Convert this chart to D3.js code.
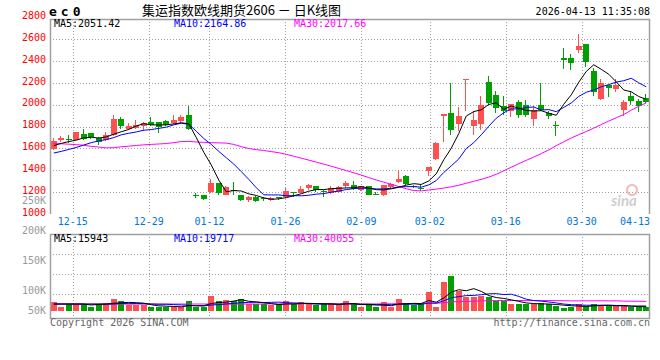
<!DOCTYPE html>
<html><head><meta charset="utf-8">
<script src="https://cdn.jsdelivr.net/npm/d3@7"></script>
<style>body{margin:0;background:#fff}svg{display:block}</style>
</head><body><svg id="c" width="660" height="360"></svg>
<script>
// ---------- data ----------
const dateLabels = ["12-15","12-29","01-12","01-26","02-09","03-02","03-16","03-30","04-13"];
const dateIndex  = [3,13,21,31,41,50,60,70,79];
const open  = [1597,1673,1689,1680,1735,1737,1692,1673,1726,1872,1781,1787,1808,1842,1838,1848,1833,1848,1909,1174,1174,1199,1282,1174,1220,1174,1129,1156,1144,1122,1153,1156,1202,1193,1239,1257,1212,1190,1196,1251,1266,1220,1257,1180,1174,1245,1287,1343,1257,1239,1395,1500,1900,1925,1827,2228,1802,1824,2206,2093,1992,1940,2026,2001,1870,2001,1925,1815,2430,2424,2500,2552,2307,2053,2176,2148,1949,2084,2038,2063];
const high  = [1695,1710,1726,1753,1781,1737,1701,1747,1909,1884,1833,1857,1842,1884,1838,1857,1903,1909,1985,1190,1174,1321,1282,1257,1287,1174,1159,1159,1153,1153,1153,1232,1202,1257,1276,1257,1220,1257,1257,1303,1297,1257,1257,1197,1266,1282,1404,1352,1266,1276,1432,1655,1918,2200,1980,2237,1946,2077,2261,2123,2077,2010,2047,2041,1985,2200,1946,1848,2522,2460,2644,2552,2338,2237,2185,2237,2041,2123,2053,2102];
const low   = [1582,1655,1649,1673,1673,1686,1627,1664,1716,1781,1771,1778,1762,1808,1741,1802,1824,1833,1765,1144,1122,1190,1174,1168,1168,1113,1107,1104,1113,1113,1122,1147,1156,1190,1220,1197,1153,1183,1190,1239,1214,1205,1168,1170,1165,1236,1282,1266,1236,1205,1343,1496,1655,1726,1756,1940,1726,1771,2001,1925,1909,1888,1879,1888,1802,1940,1870,1716,2329,2316,2476,2347,2077,2047,2072,2114,1894,2001,1930,2017];
const close = [1670,1698,1673,1753,1686,1701,1658,1726,1872,1802,1808,1817,1833,1817,1796,1811,1863,1884,1778,1159,1138,1282,1190,1242,1211,1122,1150,1113,1135,1144,1144,1205,1196,1230,1262,1218,1202,1239,1248,1278,1227,1251,1174,1177,1266,1276,1321,1276,1242,1232,1432,1652,1918,1771,1900,2237,1857,2001,2017,1971,1940,2010,1903,1909,1949,1955,1894,1808,2414,2378,2536,2390,2114,2200,2154,2185,2022,2031,1985,2022];
const ma5   = [1625,1645,1662,1675,1696,1702,1694,1705,1729,1752,1773,1805,1826,1815,1814,1815,1824,1834,1826,1699,1564,1448,1309,1202,1213,1209,1183,1168,1146,1133,1137,1148,1165,1184,1207,1222,1222,1230,1234,1237,1239,1249,1236,1221,1219,1229,1243,1263,1276,1269,1301,1367,1495,1601,1735,1896,1937,1953,2002,2017,1957,1988,1968,1947,1942,1945,1922,1903,2004,2090,2206,2305,2366,2324,2279,2209,2135,2118,2075,2049];
const ma10  = [1557,1572,1590,1608,1630,1652,1668,1680,1698,1724,1738,1750,1766,1772,1783,1794,1815,1830,1821,1757,1690,1636,1572,1514,1456,1387,1316,1239,1174,1173,1173,1166,1166,1165,1170,1180,1185,1198,1209,1222,1231,1235,1233,1228,1228,1234,1246,1249,1249,1244,1265,1305,1379,1439,1502,1598,1652,1724,1802,1876,1926,1962,1961,1975,1979,1951,1955,1936,1975,2016,2076,2114,2135,2164,2184,2207,2220,2242,2200,2164];
const ma30  = [1645,1642,1638,1634,1628,1618,1612,1604,1606,1614,1620,1626,1632,1636,1640,1644,1652,1662,1664,1658,1655,1652,1650,1648,1636,1615,1598,1588,1580,1570,1560,1545,1528,1510,1492,1474,1455,1436,1416,1396,1376,1355,1332,1310,1290,1270,1250,1230,1213,1210,1218,1226,1236,1247,1262,1280,1298,1316,1336,1362,1394,1427,1459,1490,1520,1552,1585,1625,1660,1695,1725,1754,1785,1818,1850,1880,1910,1950,1985,2016];
const volume = [38,18,31,31,31,18,31,35,52,42,25,25,25,18,18,18,18,18,42,18,18,64,42,47,42,50,28,28,28,25,28,42,28,38,28,24,34,28,24,42,28,16,28,16,38,16,52,34,24,34,82,16,124,150,85,61,61,64,61,42,42,31,31,28,28,35,28,21,13,16,28,21,31,25,21,21,21,16,16,16];
const volMa5  = [30,30,30,30,29.8,25.8,28.4,29.2,33.4,35.6,37,35.8,33.8,27,22.2,20.8,19.4,18,22.8,22.8,22.8,32,36.8,37.8,42.6,49,41.8,39,35.2,31.8,27.4,30.2,30.2,32.2,32.8,32,30.4,30.4,27.6,30.4,31.2,27.6,27.6,26,25.2,22.8,30,31.2,32.8,32,45.2,38,56,81.2,91.4,87.2,96.2,84.2,66.4,57.8,54,48,41.4,34.8,32,30.6,30,28,25,22.6,21.2,19.8,21.8,24.2,25.2,23.8,23.8,20.8,19,18];
const volMa10 = [30,30,30,30,30,30,30,30,30,32.7,31.4,32.1,31.5,30.2,28.9,28.9,27.6,25.9,24.9,22.5,21.8,25.7,27.4,30.3,32.7,35.9,36.9,37.9,36.5,37.2,38.2,36,34.6,33.7,32.3,29.7,30.3,30.3,29.9,31.6,31.6,29,29,26.8,27.8,27,28.8,29.4,29.4,28.6,34,34,43.6,57,61.7,66.2,67.1,70.1,73.8,74.6,70.6,72.1,62.8,50.6,44.9,42.3,39,34.7,29.9,27.3,25.9,24.9,24.9,24.6,23.9,22.5,21.8,21.3,21.6,21.6];
const volMa30 = [30,30,30,30,30,30,30,30,30,30,30,30,30,30,30,30,30,30,30,30,30,30,30,30,30,30,30,30,30,30.8,30.5,31.3,31.2,31.4,31.3,31.5,31.6,31.4,30.4,30.4,30.5,30.2,30.3,30.3,30.9,30.9,32,32.5,31.9,32.5,34.6,33,35.7,39.2,40.6,41,42.1,43.3,44.4,44.9,45.4,45,45.1,44.8,44.8,45.2,45,44.7,44.4,43.5,43.5,43.7,43.8,44.1,43.5,43.7,42.6,42,41.8,41.2];
const priceTicks = [1000,1200,1400,1600,1800,2000,2200,2400,2600,2800];
const volTicks = [50,100,150,200,250]; // thousands
const legendMain = ["MA5:2051.42","MA10:2164.86","MA30:2017.66"];
const legendVol  = ["MA5:15943","MA10:19717","MA30:40055"];
const legendColors = ["#000000","#0000ff","#ff00ff"];

// ---------- drawing ----------
const svg = d3.select("#c");
const n = close.length;
const L = 50, R = 650, mainTop = 19, mainBot = 214, volTop = 234, volBot = 318;
const UP = "#ff5050", DOWN = "#00a000", GRID = "#a0a0a0", BORDER = "#a0a0a0";
const mono = "'DejaVu Sans Mono', monospace";

const x = d3.scaleBand().domain(d3.range(n)).range([L, R]).paddingInner(0.2).paddingOuter(0.1);
const xc = i => x(i) + x.bandwidth() / 2;
const bx = i => Math.round(xc(i) - 3);
const xGrid = d3.scaleLinear().domain([0, n - 1]).range([L, R]);
const y = d3.scaleLinear().domain([1000, 2800]).range([213.8, 17.4]);
const yv = d3.scaleLinear().domain([0, 331.1]).range([311, 234]);
const yvGrid = d3.scaleLinear().domain([0, 4]).range([234, 314]);
const yvLabel = d3.scaleLinear().domain([50, 250]).range([320.7, 200.7]);

// grid lines
const g = svg.append("g");
g.selectAll(".hg").data(priceTicks.filter(p => p > 1000 && p < 2800)).enter().append("line")
  .attr("x1", L).attr("x2", R).attr("y1", d => Math.round(y(d)) + 0.5).attr("y2", d => Math.round(y(d)) + 0.5)
  .attr("stroke", GRID).attr("stroke-dasharray", "1,2");
g.selectAll(".vg").data(dateIndex.slice(0, -1)).enter().append("line")
  .attr("x1", d => Math.round(xGrid(d)) + 0.5).attr("x2", d => Math.round(xGrid(d)) + 0.5)
  .attr("y1", mainTop).attr("y2", mainBot).attr("stroke", GRID).attr("stroke-dasharray", "1,2");
g.selectAll(".vhg").data([1, 2, 3]).enter().append("line")
  .attr("x1", L).attr("x2", R).attr("y1", d => yvGrid(d) + 0.5).attr("y2", d => yvGrid(d) + 0.5)
  .attr("stroke", GRID).attr("stroke-dasharray", "1,2");
g.selectAll(".vvg").data(dateIndex.slice(0, -1)).enter().append("line")
  .attr("x1", d => Math.round(xGrid(d)) + 0.5).attr("x2", d => Math.round(xGrid(d)) + 0.5)
  .attr("y1", volTop).attr("y2", volBot + 3).attr("stroke", GRID).attr("stroke-dasharray", "1,2");

// candles
const cg = svg.append("g").attr("shape-rendering", "crispEdges");
const idx = d3.range(n);
const col = i => close[i] >= open[i] ? UP : DOWN;
cg.selectAll(".wick").data(idx).enter().append("line")
  .attr("x1", i => bx(i) + 2.5).attr("x2", i => bx(i) + 2.5)
  .attr("y1", i => y(high[i])).attr("y2", i => y(low[i])).attr("stroke", col);
cg.selectAll(".body").data(idx).enter().append("rect")
  .attr("x", bx).attr("width", 6)
  .attr("y", i => y(Math.max(open[i], close[i])))
  .attr("height", i => Math.max(1, Math.abs(y(open[i]) - y(close[i]))))
  .attr("fill", col);

// moving averages (price)
const line = (arr, sc) => d3.line().x((d, i) => xc(i)).y(d => sc(d))(arr);
[[ma30, "#ff00ff"], [ma10, "#0000ff"], [ma5, "#000000"]].forEach(([a, c]) =>
  svg.append("path").attr("d", line(a, y)).attr("fill", "none").attr("stroke", c).attr("stroke-width", 1));

// volume bars
svg.append("g").attr("shape-rendering", "crispEdges").selectAll("rect").data(idx).enter().append("rect")
  .attr("x", bx).attr("width", 6)
  .attr("y", i => yv(volume[i])).attr("height", i => yv(0) - yv(volume[i]))
  .attr("fill", col);
[[volMa30, "#ff00ff"], [volMa10, "#0000ff"], [volMa5, "#000000"]].forEach(([a, c]) =>
  svg.append("path").attr("d", line(a, yv)).attr("fill", "none").attr("stroke", c).attr("stroke-width", 1));

// borders
svg.append("path").attr("d", `M${L+0.5},${mainBot}V${mainTop+0.5}H${R-0.5}V${mainBot}`)
  .attr("fill", "none").attr("stroke", BORDER).attr("stroke-width", 1.5);
svg.append("rect").attr("x", L + 0.5).attr("y", volTop + 0.5).attr("width", R - L - 1).attr("height", volBot - volTop)
  .attr("fill", "none").attr("stroke", BORDER).attr("stroke-width", 1.5);

// axis labels
svg.selectAll(".pt").data(priceTicks).enter().append("text")
  .attr("x", 46).attr("y", d => y(d) + 1.8).attr("text-anchor", "end")
  .attr("font-family", mono).attr("font-size", 10).attr("fill", "#ff0000").text(d => d);
svg.selectAll(".vt").data(volTicks).enter().append("text")
  .attr("x", 46).attr("y", d => Math.min(310, yvLabel(d)) + 3.5).attr("text-anchor", "end")
  .attr("font-family", mono).attr("font-size", 10).attr("fill", "#999999").text(d => d + "K");
svg.selectAll(".dt").data(dateLabels).enter().append("text")
  .attr("x", (d, i) => i === dateLabels.length - 1 ? R : xGrid(dateIndex[i]))
  .attr("y", 225).attr("text-anchor", (d, i) => i === dateLabels.length - 1 ? "end" : "middle")
  .attr("font-family", mono).attr("font-size", 10).attr("fill", "#0078d7").text(d => d);

// legends
const lx = [54, 174, 294];
svg.selectAll(".lm").data(legendMain).enter().append("text")
  .attr("x", (d, i) => lx[i]).attr("y", 27).attr("font-family", mono).attr("font-size", 10)
  .attr("fill", (d, i) => legendColors[i]).text(d => d);
svg.selectAll(".lv").data(legendVol).enter().append("text")
  .attr("x", (d, i) => lx[i]).attr("y", 242).attr("font-family", mono).attr("font-size", 10)
  .attr("fill", (d, i) => legendColors[i]).text(d => d);

// header
svg.append("text").attr("x", 49).attr("y", 15.5).attr("font-family", mono).attr("font-weight", "bold")
  .attr("font-size", 13).attr("letter-spacing", 4).attr("fill", "#000").text("ec0");
svg.append("text").attr("x", 142).attr("y", 15).attr("font-family", "'Noto Sans CJK SC', sans-serif")
  .attr("font-size", 13).attr("fill", "#000").text("集运指数欧线期货2606 － 日K线图");
svg.append("text").attr("x", R).attr("y", 15).attr("text-anchor", "end").attr("font-family", mono)
  .attr("font-size", 10).attr("fill", "#000").text("2026-04-13 11:35:08");

// footer
svg.append("text").attr("x", L).attr("y", 326).attr("font-family", mono).attr("font-size", 10)
  .attr("fill", "#666").text("Copyright 2026 SINA.COM");
svg.append("text").attr("x", R).attr("y", 326).attr("text-anchor", "end").attr("font-family", mono)
  .attr("font-size", 10).attr("fill", "#666").text("http://finance.sina.com.cn");

// watermark
svg.append("circle").attr("cx", 632).attr("cy", 190).attr("r", 5).attr("fill", "none")
  .attr("stroke", "#f2b8b8").attr("stroke-width", 2);
svg.append("text").attr("x", 624).attr("y", 206).attr("text-anchor", "middle")
  .attr("font-family", "Lato, sans-serif").attr("font-style", "italic").attr("font-weight", "bold")
  .attr("font-size", 15).attr("fill", "#cfcfcf").text("sina");
</script>
</body></html>
